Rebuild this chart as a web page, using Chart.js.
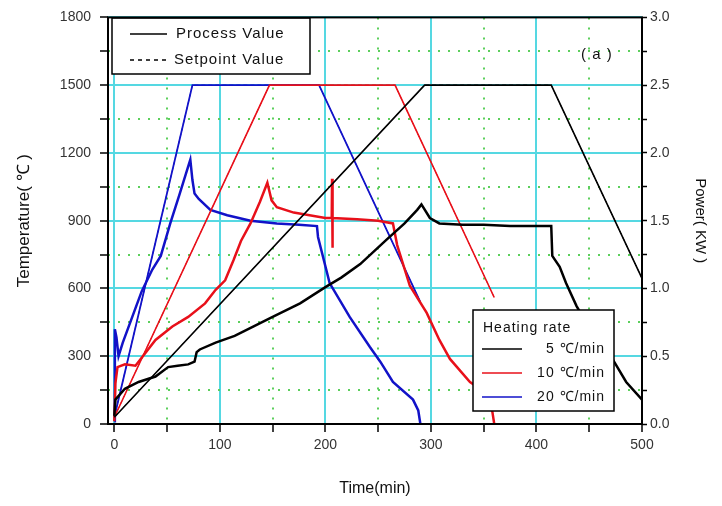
<!DOCTYPE html>
<html>
<head>
<meta charset="utf-8">
<script src="https://cdn.jsdelivr.net/npm/chart.js@4/dist/chart.umd.min.js"></script>
<style>
    html, body { margin: 0; padding: 0; background: #fff; }
</style>
</head>
<body>
<canvas id="grafico" width="722" height="506"></canvas>
<script>
// ticks dos eixos
var tempoTicks = [0, 100, 200, 300, 400, 500];
var tempTicks = [0, 300, 600, 900, 1200, 1500, 1800];
var potTicks = ["0.0", "0.5", "1.0", "1.5", "2.0", "2.5", "3.0"];

// temperatura programada (setpoint) - tempo em min, temperatura em C
var tempo5 = [0, 294, 414, 500];
var temp5 = [30, 1500, 1500, 645];
var tempo10 = [0, 147, 266, 360];
var temp10 = [30, 1500, 1500, 560];
var tempo20 = [0, 74, 194, 290];
var temp20 = [30, 1500, 1500, 540];

// potencia (KW)
var tempoPot5 = [0, 1, 10, 23, 39, 51, 60, 70, 76, 78, 81, 96, 114, 132, 150, 176, 200, 215, 233, 258, 275, 287, 291, 299, 308, 330, 350, 375, 400, 414, 415, 422, 428, 438, 453, 472, 485, 500];
var pot5 = [0.06, 0.18, 0.26, 0.31, 0.35, 0.42, 0.43, 0.44, 0.46, 0.53, 0.55, 0.60, 0.65, 0.72, 0.79, 0.89, 1.01, 1.08, 1.18, 1.36, 1.48, 1.58, 1.62, 1.52, 1.48, 1.47, 1.47, 1.46, 1.46, 1.46, 1.24, 1.16, 1.04, 0.87, 0.67, 0.48, 0.31, 0.18];

var tempoPot10 = [0, 1, 3, 10, 20, 25, 39, 55, 70, 86, 96, 105, 113, 120, 129, 138, 145, 149, 154, 170, 200, 206, 206.3, 206.6, 207, 230, 250, 264, 268, 280, 296, 308, 318, 337, 356, 358, 360];
var pot10 = [0.02, 0.30, 0.42, 0.44, 0.43, 0.48, 0.62, 0.72, 0.79, 0.89, 0.99, 1.06, 1.21, 1.35, 1.48, 1.64, 1.78, 1.65, 1.60, 1.56, 1.52, 1.52, 1.81, 1.30, 1.52, 1.51, 1.50, 1.48, 1.32, 1.02, 0.82, 0.62, 0.48, 0.31, 0.21, 0.10, 0.0];

var tempoPot20 = [0, 0.5, 2, 4, 8, 17, 26, 36, 44, 53, 62, 70, 72, 74, 76, 80, 91, 107, 129, 154, 175, 192, 193, 204, 223, 242, 252, 264, 283, 288, 290];
var pot20 = [0.02, 0.70, 0.64, 0.50, 0.60, 0.79, 0.98, 1.14, 1.24, 1.48, 1.70, 1.90, 1.95, 1.80, 1.70, 1.66, 1.58, 1.54, 1.50, 1.48, 1.47, 1.46, 1.38, 1.04, 0.79, 0.57, 0.46, 0.31, 0.18, 0.10, 0.0];

var PRETO = "#000000";
var VERMELHO = "#e8101a";
var AZUL = "#1212c8";
var CIANO = "#55d8e2";
var VERDE = "#5ccf5c";
var FONTE = "'Liberation Sans', Arial, sans-serif";

function pontos(xs, ys) {
    return xs.map(function (x, i) { return { x: x, y: ys[i] }; });
}

// coloca um tick intermediario entre cada par de ticks principais
function comMenores(valores) {
    var r = [];
    for (var i = 0; i < valores.length; i++) {
        r.push(valores[i]);
        if (i < valores.length - 1) r.push((valores[i] + valores[i + 1]) / 2);
    }
    return r;
}

function ehPrincipal(lista, v) {
    return lista.some(function (p) { return Math.abs(p - v) < 1e-6; });
}

var potNums = potTicks.map(function (p) { return parseFloat(p); });

function linha(label, xs, ys, cor, largura, eixo, tracejado) {
    return {
        label: label,
        data: pontos(xs, ys),
        borderColor: cor,
        borderWidth: largura,
        borderDash: tracejado || [],
        yAxisID: eixo,
        pointRadius: 0,
        tension: 0,
        fill: false
    };
}

var gridPrincipal = function (lista) {
    return {
        color: function (ctx) {
            return ctx.tick && ehPrincipal(lista, ctx.tick.value) ? CIANO : VERDE;
        },
        lineWidth: 2,
        tickColor: PRETO,
        tickLength: 8,
        tickWidth: 1.5
    };
};

var bordaMenor = function (lista) {
    return {
        display: false,
        dash: function (ctx) {
            if (!ctx.tick) return [];
            return ehPrincipal(lista, ctx.tick.value) ? [] : [2, 8];
        }
    };
};

// caixas de legenda, rotulo (a) e moldura
var extras = {
    id: "extras",
    afterDatasetsDraw: function (chart) {
        var c = chart.ctx;
        c.save();
        c.textBaseline = "middle";
        c.letterSpacing = "1px";

        // legenda Process / Setpoint
        c.fillStyle = "#fff";
        c.strokeStyle = PRETO;
        c.lineWidth = 1.5;
        c.fillRect(112, 18, 198, 56);
        c.strokeRect(112, 18, 198, 56);
        c.beginPath();
        c.moveTo(130, 34); c.lineTo(167, 34);
        c.stroke();
        c.setLineDash([4, 4]);
        c.beginPath();
        c.moveTo(130, 60); c.lineTo(167, 60);
        c.stroke();
        c.setLineDash([]);
        c.fillStyle = "#111";
        c.font = "15px " + FONTE;
        c.textAlign = "left";
        c.fillText("Process Value", 176, 34);
        c.fillText("Setpoint Value", 174, 60);

        // (a)
        c.fillText("( a )", 581, 55);

        // legenda Heating rate
        c.fillStyle = "#fff";
        c.fillRect(473, 310, 141, 101);
        c.strokeRect(473, 310, 141, 101);
        c.fillStyle = "#111";
        c.font = "14px " + FONTE;
        c.fillText("Heating rate", 483, 328);
        var itens = [["5 ℃/min", PRETO, 349], ["10 ℃/min", VERMELHO, 373], ["20 ℃/min", AZUL, 397]];
        itens.forEach(function (it) {
            c.strokeStyle = it[1];
            c.lineWidth = 1.5;
            c.beginPath();
            c.moveTo(482, it[2]); c.lineTo(522, it[2]);
            c.stroke();
            c.textAlign = "right";
            c.fillText(it[0], 605, it[2]);
        });

        // moldura do grafico
        var a = chart.chartArea;
        c.strokeStyle = PRETO;
        c.lineWidth = 2;
        c.strokeRect(a.left, a.top, a.right - a.left, a.bottom - a.top);
        c.restore();
    }
};

new Chart(document.getElementById("grafico"), {
    type: "line",
    data: {
        datasets: [
            linha("5 Process", tempo5, temp5, PRETO, 1.6, "y"),
            linha("5 Power", tempoPot5, pot5, PRETO, 2.5, "y1"),
            linha("10 Process", tempo10, temp10, VERMELHO, 1.6, "y"),
            linha("10 Power", tempoPot10, pot10, VERMELHO, 2.5, "y1"),
            linha("20 Process", tempo20, temp20, AZUL, 1.8, "y"),
            linha("20 Power", tempoPot20, pot20, AZUL, 2.5, "y1"),
            linha("5 Setpoint", tempo5, temp5, PRETO, 1, "y", [4, 3]),
            linha("10 Setpoint", tempo10, temp10, VERMELHO, 1, "y", [4, 3]),
            linha("20 Setpoint", tempo20, temp20, AZUL, 1, "y", [4, 3])
        ]
    },
    options: {
        responsive: false,
        animation: false,
        layout: { padding: { top: 16, left: 0, right: 0, bottom: 0 } },
        plugins: {
            legend: { display: false },
            tooltip: { enabled: false }
        },
        scales: {
            x: {
                type: "linear",
                min: -6,
                max: 500,
                afterBuildTicks: function (s) {
                    s.ticks = comMenores(tempoTicks).map(function (v) { return { value: v }; });
                },
                afterFit: function (s) { s.height = 82; },
                grid: gridPrincipal(tempoTicks),
                border: bordaMenor(tempoTicks),
                ticks: {
                    autoSkip: false,
                    maxRotation: 0,
                    padding: 5,
                    color: "#333",
                    font: { family: FONTE, size: 14 },
                    callback: function (v) { return ehPrincipal(tempoTicks, v) ? String(v) : ""; }
                },
                title: {
                    display: true,
                    text: "Time(min)",
                    color: "#111",
                    font: { family: FONTE, size: 16 },
                    padding: { top: 0, bottom: 8 }
                }
            },
            y: {
                position: "left",
                min: 0,
                max: 1800,
                afterBuildTicks: function (s) {
                    s.ticks = comMenores(tempTicks).map(function (v) { return { value: v }; });
                },
                afterFit: function (s) { s.width = 108; },
                grid: gridPrincipal(tempTicks),
                border: bordaMenor(tempTicks),
                ticks: {
                    autoSkip: false,
                    padding: 9,
                    color: "#333",
                    font: { family: FONTE, size: 14 },
                    callback: function (v) { return ehPrincipal(tempTicks, v) ? String(v) : ""; }
                },
                title: {
                    display: true,
                    text: "Temperature( ℃ )",
                    color: "#111",
                    font: { family: FONTE, size: 17 },
                    padding: { top: 14, bottom: 0 }
                }
            },
            y1: {
                position: "right",
                min: 0,
                max: 3,
                afterBuildTicks: function (s) {
                    s.ticks = comMenores(potNums).map(function (v) { return { value: v }; });
                },
                afterFit: function (s) { s.width = 80; },
                grid: {
                    drawOnChartArea: false,
                    tickColor: PRETO,
                    tickLength: 5,
                    tickWidth: 1.5
                },
                border: { display: false },
                ticks: {
                    autoSkip: false,
                    padding: 3,
                    color: "#333",
                    font: { family: FONTE, size: 14 },
                    callback: function (v) {
                        for (var i = 0; i < potNums.length; i++) {
                            if (Math.abs(potNums[i] - v) < 1e-6) return potTicks[i];
                        }
                        return "";
                    }
                },
                title: {
                    display: true,
                    text: "Power( KW )",
                    color: "#111",
                    font: { family: FONTE, size: 15 },
                    padding: { top: 13, bottom: 0 }
                }
            }
        }
    },
    plugins: [extras]
});
</script>
</body>
</html>
